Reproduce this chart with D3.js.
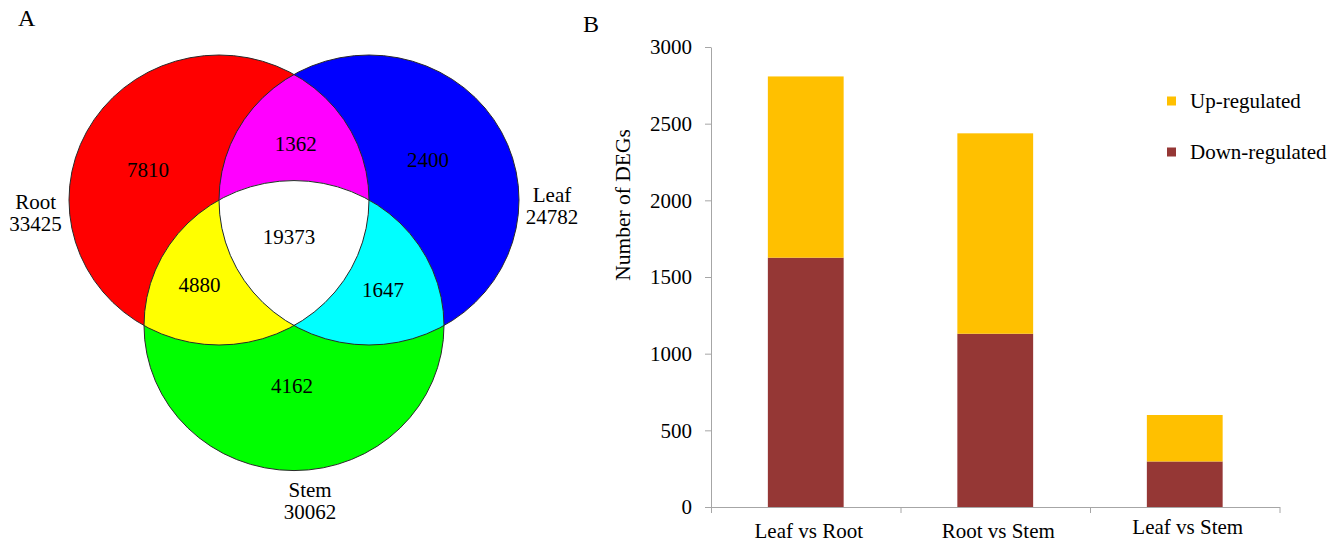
<!DOCTYPE html>
<html>
<head>
<meta charset="utf-8">
<script src="https://cdn.jsdelivr.net/npm/d3@7"></script>
<style>
  html, body { margin: 0; padding: 0; background: #fff; }
  svg { display: block; }
  text { font-family: "Liberation Serif", "Times New Roman", serif; fill: #000; }
</style>
</head>
<body>
<svg id="fig" width="1341" height="543"></svg>
<script>
// ---- Panel A: overlap of expressed genes between tissues ----
const tissues = ["Root", "Leaf", "Stem"];
const tissueTotals = [33425, 24782, 30062];
const tissueColors = ["#ff0000", "#0000ff", "#00ff00"];
// regions: only-Root, only-Leaf, only-Stem, Root∩Leaf, Root∩Stem, Leaf∩Stem, all three
const regionNames = ["Root", "Leaf", "Stem", "Root&Leaf", "Root&Stem", "Leaf&Stem", "Root&Leaf&Stem"];
const regionCounts = [7810, 2400, 4162, 1362, 4880, 1647, 19373];

// ---- Panel B: DEGs per comparison ----
const comparisons = ["Leaf vs Root", "Root vs Stem", "Leaf vs Stem"];
const downRegulated = [1626, 1130, 297];
const upRegulated = [1182, 1307, 303];
const seriesNames = ["Up-regulated", "Down-regulated"];
const yTicks = [0, 500, 1000, 1500, 2000, 2500, 3000];

const svg = d3.select("#fig");

// ================= Venn diagram =================
// circle centres in unit space (radius = 1)
const vennCentres = [[-0.5, 0], [0.5, 0], [0, Math.sqrt(3) / 2]];
// label anchors in the same unit space
const regionAnchors = {
  "Root": [-0.973, -0.159], "Leaf": [0.893, -0.228], "Stem": [-0.013, 1.334],
  "Root&Leaf": [0.011, -0.338], "Root&Stem": [-0.63, 0.634],
  "Leaf&Stem": [0.593, 0.669], "Root&Leaf&Stem": [-0.033, 0.303]
};
const tissueAnchors = [[-1.723, 0.062], [1.72, 0.014], [0.107, 2.048]];

const vx = d3.scaleLinear().domain([0, 1]).range([294, 444]);
const vy = d3.scaleLinear().domain([0, 1]).range([200, 345]);
const rx = vx(1) - vx(0), ry = vy(1) - vy(0);

const venn = svg.append("g").attr("class", "venn");
const defs = svg.append("defs");
vennCentres.forEach((c, i) => {
  defs.append("clipPath").attr("id", "clip-" + i)
    .append("ellipse")
    .attr("cx", vx(c[0])).attr("cy", vy(c[1])).attr("rx", rx).attr("ry", ry);
});

function shape(sel, i) {
  return sel.append("ellipse")
    .attr("cx", vx(vennCentres[i][0])).attr("cy", vy(vennCentres[i][1]))
    .attr("rx", rx).attr("ry", ry);
}
// base circles
tissues.forEach((t, i) => shape(venn, i).attr("fill", tissueColors[i]));
// pairwise overlaps (additive colours)
const pairFill = [[0, 1, "#ff00ff"], [0, 2, "#ffff00"], [1, 2, "#00ffff"]];
pairFill.forEach(([a, b, col]) => {
  shape(venn.append("g").attr("clip-path", `url(#clip-${a})`), b).attr("fill", col);
});
// triple overlap
const g01 = venn.append("g").attr("clip-path", "url(#clip-0)")
  .append("g").attr("clip-path", "url(#clip-1)");
shape(g01, 2).attr("fill", "#ffffff");
// outlines
tissues.forEach((t, i) => shape(venn, i).attr("fill", "none")
  .attr("stroke", "#2a2a2a").attr("stroke-width", 1));

// region counts
venn.selectAll("text.count").data(regionNames).join("text")
  .attr("class", "count")
  .attr("x", d => vx(regionAnchors[d][0]))
  .attr("y", d => vy(regionAnchors[d][1]))
  .attr("text-anchor", "middle")
  .style("font-size", "21px")
  .text((d, i) => regionCounts[i]);

// tissue names + totals
tissues.forEach((t, i) => {
  const tx = venn.append("text")
    .attr("x", vx(tissueAnchors[i][0])).attr("y", vy(tissueAnchors[i][1]))
    .attr("text-anchor", "middle").style("font-size", "21px");
  tx.append("tspan").attr("x", vx(tissueAnchors[i][0])).text(t);
  tx.append("tspan").attr("x", vx(tissueAnchors[i][0])).attr("dy", 22).text(tissueTotals[i]);
});

svg.append("text").attr("x", 18).attr("y", 26).style("font-size", "24px").text("A");

// ================= Stacked bar chart =================
const x0 = 711, x1 = 1279.5, yTop = 47, yBot = 507;
const x = d3.scaleBand().domain(comparisons).range([x0, x1])
  .paddingInner(0.6).paddingOuter(0.3);
const y = d3.scaleLinear().domain([0, 3000]).range([yBot, yTop]);

const bars = svg.append("g").attr("class", "bars");
const rows = comparisons.map((c, i) => ({ c, down: downRegulated[i], up: upRegulated[i] }));
const stack = d3.stack().keys(["down", "up"])(rows);
const stackColors = { down: "#953735", up: "#ffc000" };
bars.selectAll("g.layer").data(stack).join("g")
  .attr("class", "layer")
  .attr("fill", d => stackColors[d.key])
  .selectAll("rect").data(d => d).join("rect")
  .attr("x", d => x(d.data.c))
  .attr("width", x.bandwidth())
  .attr("y", d => y(d[1]))
  .attr("height", d => y(d[0]) - y(d[1]));

// y axis
const axisColor = "#a6a6a6";
const yAxis = svg.append("g").attr("transform", `translate(${x0},0)`)
  .call(d3.axisLeft(y).tickValues(yTicks).tickFormat(d3.format("d"))
    .tickSize(6).tickSizeOuter(0).tickPadding(13));
yAxis.select(".domain").attr("stroke", axisColor);
yAxis.selectAll(".tick line").attr("stroke", axisColor);
yAxis.selectAll(".tick text").style("font-size", "21px")
  .style("font-family", '"Liberation Serif", serif').attr("fill", "#000");

// x axis: ticks at category boundaries
const xb = d3.scaleLinear().domain([0, comparisons.length]).range([x0, x1]);
const xAxis = svg.append("g").attr("transform", `translate(0,${yBot})`)
  .call(d3.axisBottom(xb).tickValues(d3.range(comparisons.length + 1))
    .tickFormat("").tickSize(6).tickSizeOuter(0));
xAxis.select(".domain").attr("stroke", axisColor);
xAxis.selectAll(".tick line").attr("stroke", axisColor);

const labelBase = [537.5, 537.5, 534];
svg.append("g").selectAll("text").data(comparisons).join("text")
  .attr("x", d => x(d) + x.bandwidth() / 2 + 3)
  .attr("y", (d, i) => labelBase[i])
  .attr("text-anchor", "middle")
  .style("font-size", "21px")
  .text(d => d);

svg.append("text")
  .attr("transform", "translate(630,205) rotate(-90)")
  .attr("text-anchor", "middle")
  .style("font-size", "21.5px")
  .text("Number of DEGs");

// legend
const legendColors = ["#ffc000", "#953735"];
const legend = svg.append("g");
seriesNames.forEach((s, i) => {
  const ly = 101 + i * 51;
  legend.append("rect").attr("x", 1167).attr("y", ly - 4.5)
    .attr("width", 9).attr("height", 9).attr("fill", legendColors[i]);
  legend.append("text").attr("x", 1190).attr("y", ly + 6.5)
    .style("font-size", "21px").text(s);
});

svg.append("text").attr("x", 583).attr("y", 32).style("font-size", "24px").text("B");
</script>
</body>
</html>
